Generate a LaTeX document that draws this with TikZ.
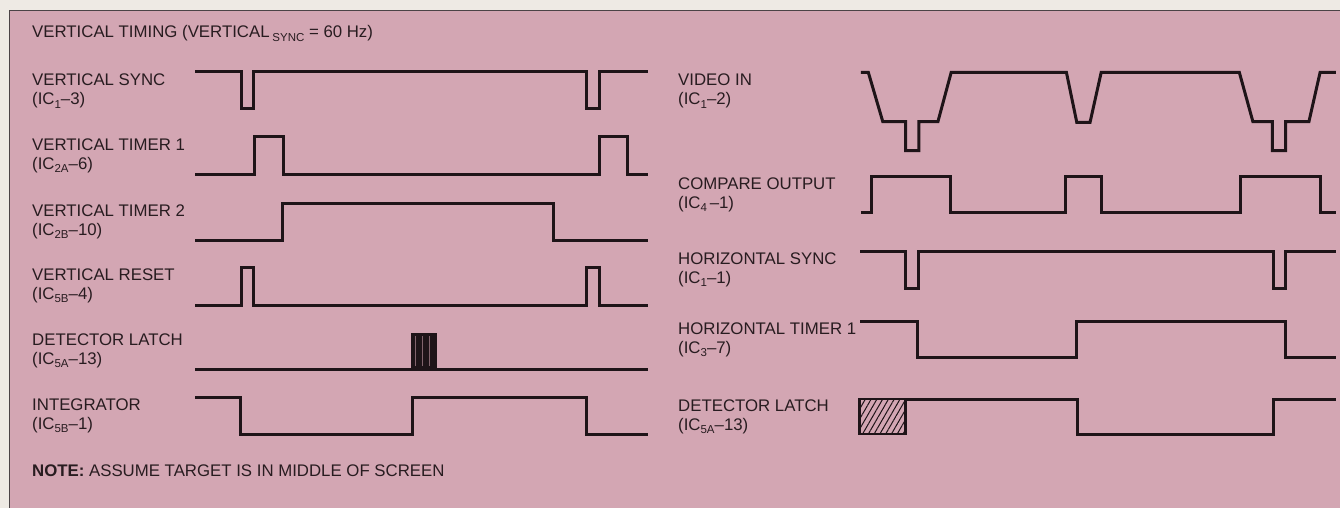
\documentclass[tikz,border=0pt]{standalone}
\usepackage{fontspec}
\setmainfont{Liberation Sans}
\usetikzlibrary{patterns.meta}
\definecolor{bgpink}{RGB}{211,166,179}
\definecolor{paper}{RGB}{238,234,228}
\definecolor{ink}{RGB}{30,20,24}
\definecolor{txt}{RGB}{40,28,32}
\newcommand{\sbs}[1]{\raisebox{-0.22em}{\fontsize{11.5}{11.5}\selectfont #1}}
\begin{document}
\begin{tikzpicture}[x=1pt,y=-1pt,
  wave/.style={draw=ink,line width=3pt,line join=miter,line cap=butt},
  lbl/.style={anchor=base west,inner sep=0pt,text=txt,font=\fontsize{16.8}{19}\selectfont},
  framestyle/.style={draw=ink!80,line width=1.5pt}]
\useasboundingbox (0,0) rectangle (1340,508);
\fill[paper] (0,0) rectangle (1340,508);
\fill[bgpink] (9.5,10.5) rectangle (1340,508);
\draw[framestyle] (9.5,508) -- (9.5,10.5) -- (1340,10.5);

% title and note
\node[lbl] (title) at (32,38) {VERTICAL TIMING (VERTICAL\,\sbs{SYNC} = 60 Hz)};
\node[lbl] (note) at (32,476) {\textbf{NOTE:} ASSUME TARGET IS IN MIDDLE OF SCREEN};

% left labels
\node[lbl] (vsA) at (32,86) {VERTICAL SYNC};
\node[lbl] (vsB) at (32,105) {(IC\sbs{1}--3)};
\node[lbl] (vtaA) at (32,150) {VERTICAL TIMER 1};
\node[lbl] (vtaB) at (32,169) {(IC\sbs{2A}--6)};
\node[lbl] (vtbA) at (32,216) {VERTICAL TIMER 2};
\node[lbl] (vtbB) at (32,235) {(IC\sbs{2B}--10)};
\node[lbl] (vrA) at (32,280) {VERTICAL RESET};
\node[lbl] (vrB) at (32,299) {(IC\sbs{5B}--4)};
\node[lbl] (dlA) at (32,345) {DETECTOR LATCH};
\node[lbl] (dlB) at (32,364) {(IC\sbs{5A}--13)};
\node[lbl] (inA) at (32,410) {INTEGRATOR};
\node[lbl] (inB) at (32,429) {(IC\sbs{5B}--1)};

% right labels
\node[lbl] (viA) at (678,86) {VIDEO IN};
\node[lbl] (viB) at (678,105) {(IC\sbs{1}--2)};
\node[lbl] (coA) at (678,189) {COMPARE OUTPUT};
\node[lbl] (coB) at (678,208) {(IC\sbs{4}\,--1)};
\node[lbl] (hsA) at (678,264) {HORIZONTAL SYNC};
\node[lbl] (hsB) at (678,283) {(IC\sbs{1}--1)};
\node[lbl] (htA) at (678,334) {HORIZONTAL TIMER 1};
\node[lbl] (htB) at (678,353) {(IC\sbs{3}--7)};
\node[lbl] (rdA) at (678,411) {DETECTOR LATCH};
\node[lbl] (rdB) at (678,430) {(IC\sbs{5A}--13)};

% ---- left waveforms ----
\draw[wave] (195,71.7) -- (241,71.7) -- (241,109) -- (253.3,109) -- (253.3,71.7)
  -- (586.7,71.7) -- (586.7,109) -- (599.3,109) -- (599.3,71.7) -- (648.3,71.7);
\draw[wave] (195,174) -- (254,174) -- (254,136.7) -- (283.3,136.7) -- (283.3,174)
  -- (599.3,174) -- (599.3,136.7) -- (627.7,136.7) -- (627.7,174) -- (648.3,174);
\draw[wave] (195,240) -- (282.3,240) -- (282.3,203.3) -- (553.3,203.3) -- (553.3,240) -- (648.3,240);
\draw[wave] (195,305) -- (241,305) -- (241,267.3) -- (253.3,267.3) -- (253.3,305)
  -- (586.7,305) -- (586.7,267.3) -- (599.3,267.3) -- (599.3,305) -- (648.3,305);
\draw[wave] (195,369) -- (648.3,369);
\fill[ink] (410.5,333) rectangle (437,369);
\draw[bgpink!55!ink,line width=0.6pt] (415,336) -- (415,366) (422.5,336) -- (422.5,366) (429.5,336) -- (429.5,366);
\draw[wave] (195,397.3) -- (240,397.3) -- (240,434) -- (412.3,434) -- (412.3,397.3)
  -- (586.7,397.3) -- (586.7,434) -- (648.3,434);

% ---- right waveforms ----
\draw[wave] (860.8,72.3) -- (868.3,72.3) -- (882.8,121.7) -- (905.6,121.7) -- (905.6,150.7)
  -- (918.8,150.7) -- (918.8,121.7) -- (937.9,121.7) -- (951.2,72.3) -- (1066.4,72.3)
  -- (1076.8,122.5) -- (1090,122.5) -- (1101.2,72.3) -- (1239.3,72.3) -- (1252.9,121.7)
  -- (1272.4,121.7) -- (1272.4,150.7) -- (1285.7,150.7) -- (1285.7,121.7) -- (1308.9,121.7)
  -- (1320.1,72.3) -- (1335.8,72.3);
\draw[wave] (860.8,212.7) -- (871.2,212.7) -- (871.2,176.7) -- (950.3,176.7) -- (950.3,212.7)
  -- (1065.2,212.7) -- (1065.2,176.7) -- (1101.2,176.7) -- (1101.2,212.7) -- (1240.5,212.7)
  -- (1240.5,176.7) -- (1320.9,176.7) -- (1320.9,212.7) -- (1335.8,212.7);
\draw[wave] (860,251.7) -- (905.6,251.7) -- (905.6,288.3) -- (918.8,288.3) -- (918.8,251.7)
  -- (1273.3,251.7) -- (1273.3,288.3) -- (1285.7,288.3) -- (1285.7,251.7) -- (1335.8,251.7);
\draw[wave] (860,321.7) -- (917.2,321.7) -- (917.2,357.3) -- (1076.8,357.3) -- (1076.8,321.7)
  -- (1285.7,321.7) -- (1285.7,357.3) -- (1335.8,357.3);
\draw[draw=ink,line width=2.5pt,pattern={Lines[angle=60,distance=5pt,line width=1pt]},pattern color=ink]
  (859.3,399) rectangle (905.6,434);
\draw[wave] (905.6,399) -- (1077.6,399) -- (1077.6,434) -- (1273.3,434) -- (1273.3,399) -- (1335.8,399);
\end{tikzpicture}
\end{document}
